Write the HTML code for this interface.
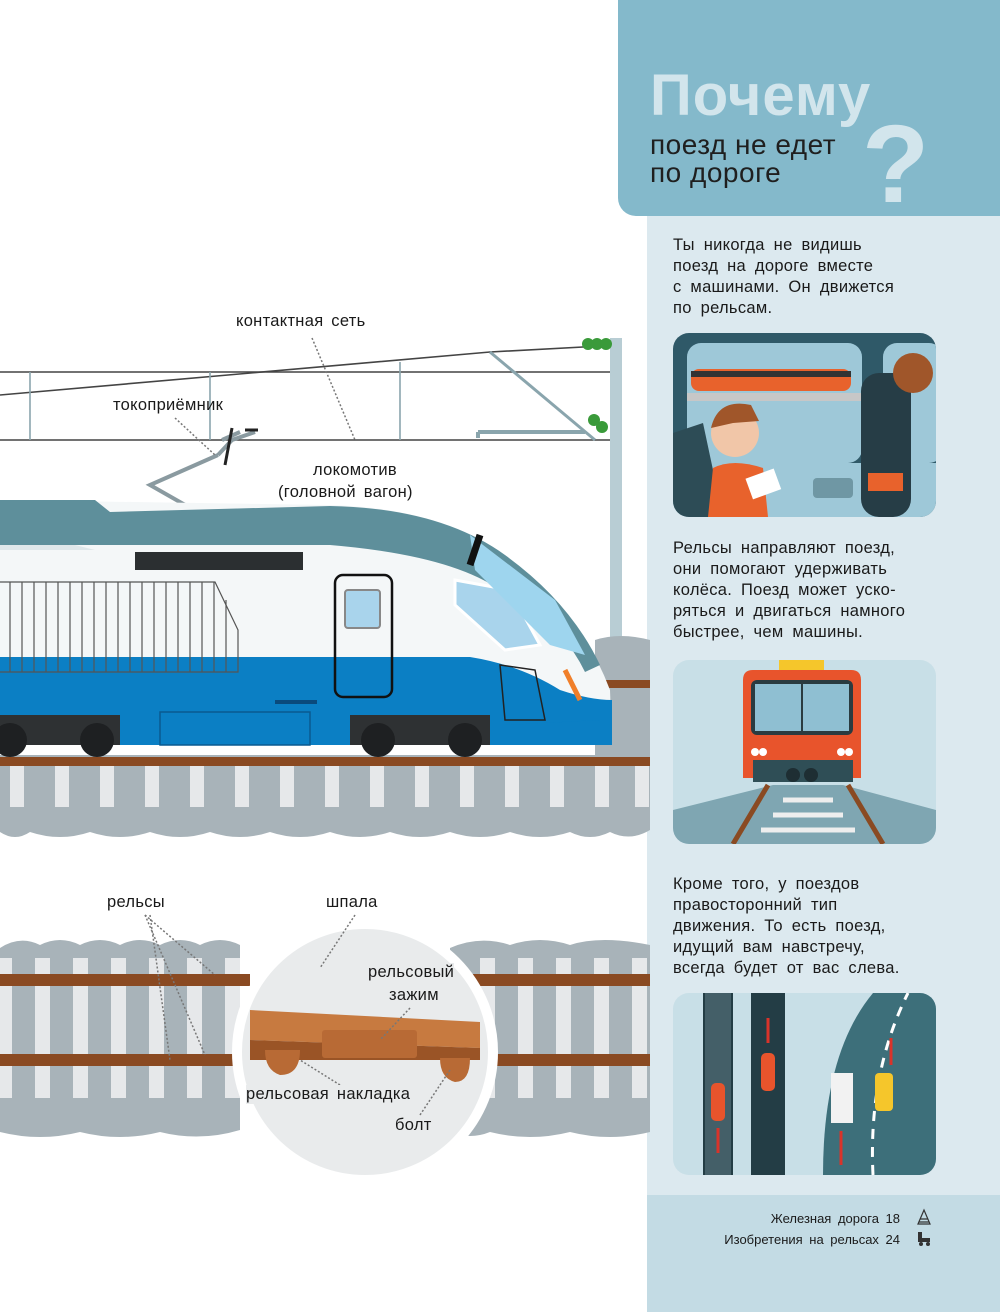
<!DOCTYPE html>
<html><head><meta charset="utf-8"><style>
body{margin:0;width:1000px;height:1312px;position:relative;background:#fff;overflow:hidden;font-family:"Liberation Sans","DejaVu Sans",sans-serif;color:#1a1a1a}
.a{position:absolute}
.p{position:absolute;left:673px;font-size:16.5px;line-height:21px;word-spacing:4px;letter-spacing:.3px}
.lbl{position:absolute;font-size:16.5px;word-spacing:3px;letter-spacing:.3px}
</style></head><body>
<div class="a" style="left:647px;top:0;width:353px;height:1312px;background:#dce9ef"></div>
<div class="a" style="left:647px;top:1195px;width:353px;height:117px;background:#c3dbe4"></div>
<div class="a" style="left:618px;top:0;width:382px;height:216px;background:#84b9cb;border-bottom-left-radius:18px"></div>
<div class="a" style="left:650px;top:62px;font-size:58px;font-weight:bold;color:#d2e5ec;letter-spacing:1px">Почему</div>
<div class="a" style="left:650px;top:131px;font-size:28px;line-height:28px;color:#1f1f1f;letter-spacing:.5px">поезд не едет<br>по дороге</div>
<div class="a" style="left:862px;top:110px;font-size:110px;font-weight:bold;color:#d2e5ec;line-height:110px">?</div>

<div class="p" style="top:235px">Ты никогда не видишь<br>поезд на дороге вместе<br>с машинами. Он движется<br>по рельсам.</div>
<div class="p" style="top:538px">Рельсы направляют поезд,<br>они помогают удерживать<br>колёса. Поезд может уско-<br>ряться и двигаться намного<br>быстрее, чем машины.</div>
<div class="p" style="top:874px">Кроме того, у поездов<br>правосторонний тип<br>движения. То есть поезд,<br>идущий вам навстречу,<br>всегда будет от вас слева.</div>

<div class="a" style="left:660px;top:1208px;width:240px;text-align:right;font-size:13px;line-height:21px;word-spacing:3px">Железная дорога 18<br>Изобретения на рельсах 24</div>
<svg class="a" style="left:914px;top:1208px" width="20" height="40"><path d="M4,16 L10,2 L16,16 Z M6,11 H14 M5,14 H15" stroke="#333" fill="none" stroke-width="1.2"/><path d="M4,24 V34 H16 V30 H8 V24 Z" fill="#333"/><circle cx="7" cy="36" r="2" fill="#333"/><circle cx="14" cy="36" r="2" fill="#333"/></svg>

<!-- boxes -->
<svg class="a" style="left:673px;top:333px" width="263" height="184">
<defs><clipPath id="c1"><rect width="263" height="184" rx="16"/></clipPath></defs>
<g clip-path="url(#c1)">
<rect width="263" height="184" fill="#2f5968"/>
<rect x="14" y="10" width="175" height="120" rx="14" fill="#9ec8d8"/>
<rect x="210" y="10" width="60" height="120" rx="14" fill="#9ec8d8"/>
<rect x="14" y="60" width="175" height="8" fill="#c7c7c7"/>
<rect x="18" y="36" width="160" height="22" rx="8" fill="#e8622c"/>
<rect x="18" y="38" width="160" height="6" fill="#333"/>
<rect x="0" y="130" width="263" height="54" fill="#9ec8d8"/>
<path d="M0,100 L30,90 L50,184 L0,184Z" fill="#2d4c56"/>
<circle cx="62" cy="100" r="24" fill="#f1c6a8"/>
<path d="M38,95 Q45,65 78,72 L86,88 L60,90 Z" fill="#a0562a"/>
<path d="M40,135 Q60,125 90,135 L95,184 L35,184Z" fill="#e8622c"/>
<rect x="75" y="140" width="30" height="22" fill="#fff" transform="rotate(-20 90 150)"/>
<rect x="188" y="40" width="50" height="144" rx="18" fill="#263d46"/>
<circle cx="240" cy="40" r="20" fill="#a0562a"/>
<rect x="195" y="140" width="35" height="18" fill="#e8622c"/>
<rect x="140" y="145" width="40" height="20" rx="4" fill="#6f97a4"/>
</g></svg>

<svg class="a" style="left:673px;top:660px" width="263" height="184">
<defs><clipPath id="c2"><rect width="263" height="184" rx="16"/></clipPath></defs>
<g clip-path="url(#c2)">
<rect width="263" height="184" fill="#c8dfe7"/>
<path d="M0,150 L100,125 L170,125 L263,150 L263,184 L0,184Z" fill="#7fa6b2"/>
<path d="M95,125 L60,184 M175,125 L210,184" stroke="#8a4a22" stroke-width="5"/>
<path d="M110,140 H160 M100,155 H170 M88,170 H182" stroke="#eee" stroke-width="5"/>
<rect x="106" y="0" width="45" height="10" fill="#f5c62b"/>
<path d="M70,20 Q70,10 80,10 H178 Q188,10 188,20 L188,118 H70Z" fill="#e8542c"/>
<rect x="78" y="20" width="102" height="55" rx="6" fill="#2a3b40"/>
<rect x="82" y="24" width="46" height="47" fill="#8fbfd2"/><rect x="130" y="24" width="46" height="47" fill="#8fbfd2"/>
<rect x="70" y="80" width="118" height="20" fill="#e8542c"/>
<circle cx="82" cy="92" r="4" fill="#fff"/><circle cx="90" cy="92" r="4" fill="#fff"/><circle cx="168" cy="92" r="4" fill="#fff"/><circle cx="176" cy="92" r="4" fill="#fff"/>
<rect x="80" y="100" width="100" height="22" fill="#2f4e56"/>
<circle cx="120" cy="115" r="7" fill="#1e2e33"/><circle cx="138" cy="115" r="7" fill="#1e2e33"/>
</g></svg>

<svg class="a" style="left:673px;top:993px" width="263" height="182">
<defs><clipPath id="c3"><rect width="263" height="182" rx="16"/></clipPath></defs>
<g clip-path="url(#c3)">
<rect width="263" height="182" fill="#c8dfe7"/>
<rect x="30" y="0" width="30" height="182" fill="#233d45"/><rect x="78" y="0" width="34" height="182" fill="#233d45"/>
<rect x="32" y="0" width="26" height="182" fill="#a8c7d2" opacity=".25"/>
<rect x="38" y="90" width="14" height="38" rx="5" fill="#e8542c"/>
<rect x="88" y="60" width="14" height="38" rx="5" fill="#e8542c"/>
<path d="M45,135 V160 M95,50 V25" stroke="#d9332a" stroke-width="3"/>
<path d="M150,182 Q150,60 200,0 L263,0 L263,182Z" fill="#3d6f7a"/>
<path d="M200,182 Q195,80 235,0" stroke="#fff" stroke-width="3" stroke-dasharray="10,8" fill="none"/>
<rect x="158" y="80" width="22" height="50" fill="#f2f2f2"/>
<rect x="202" y="80" width="18" height="38" rx="4" fill="#f5c62b"/>
<path d="M168,138 V172 M218,72 V45" stroke="#d9332a" stroke-width="3"/>
</g></svg>

<!-- main illustration -->
<svg class="a" style="left:0;top:0" width="650" height="1312">
<g stroke="#444" stroke-width="1.6" fill="none">
<path d="M0,372 H610"/>
<path d="M0,395 L490,352 L620,345"/>
<path d="M0,440 H615"/>
<path d="M30,372 V440 M210,372 V440 M400,362 V440" stroke="#8aa5ad"/>
</g>
<path d="M490,352 L595,440" stroke="#8aa5ad" stroke-width="3"/>
<path d="M478,432 H585 M478,432 V438" stroke="#8aa5ad" stroke-width="4" fill="none"/>
<rect x="610" y="338" width="12" height="302" fill="#b8cdd4"/>
<g fill="#3a9a3a"><circle cx="588" cy="344" r="6"/><circle cx="597" cy="344" r="6"/><circle cx="606" cy="344" r="6"/><circle cx="594" cy="420" r="6"/><circle cx="602" cy="427" r="6"/></g>
<!-- pantograph -->
<path d="M215,522 L150,485 L218,455 M222,440 L240,432 M218,455 L232,440 L255,432" stroke="#8a9aa0" stroke-width="4" fill="none"/>
<path d="M232,428 L225,465 M245,430 L258,430" stroke="#222" stroke-width="3"/>
<!-- ballast -->
<path d="M0,755 H650 V830 Q630,842 610,832 Q590,842 570,832 Q540,842 510,832 Q480,842 450,832 Q420,842 390,832 Q360,842 330,832 Q300,842 270,832 Q240,842 210,832 Q180,842 150,832 Q120,842 90,832 Q60,842 30,832 Q15,842 0,832Z" fill="#a8b3b9"/>
<path d="M595,640 Q620,632 650,640 V760 H595Z" fill="#a8b3b9"/>
<g fill="#e6e8ea">
<rect x="10" y="765" width="14" height="42"/><rect x="55" y="765" width="14" height="42"/><rect x="100" y="765" width="14" height="42"/><rect x="145" y="765" width="14" height="42"/><rect x="190" y="765" width="14" height="42"/><rect x="235" y="765" width="14" height="42"/><rect x="280" y="765" width="14" height="42"/><rect x="325" y="765" width="14" height="42"/><rect x="370" y="765" width="14" height="42"/><rect x="415" y="765" width="14" height="42"/><rect x="460" y="765" width="14" height="42"/><rect x="505" y="765" width="14" height="42"/><rect x="550" y="765" width="14" height="42"/><rect x="595" y="765" width="14" height="42"/><rect x="635" y="765" width="14" height="42"/>
</g>
<rect x="0" y="757" width="650" height="9" fill="#8a4a22"/>
<rect x="595" y="680" width="55" height="8" fill="#8a4a22"/>
<!-- train -->
<path d="M0,500 L330,505 Q440,508 505,555 Q580,610 610,690 L612,745 L0,745Z" fill="#f4f7f8"/>
<path d="M0,500 L95,500 L110,512 L330,506 Q440,508 505,555 Q570,602 600,665 L585,672 Q560,620 500,590 Q450,555 330,545 L0,545Z" fill="#5e8f9b"/>
<path d="M0,545 L75,545 L95,550 H0Z" fill="#dfe7ea"/>
<path d="M0,657 H470 Q520,665 560,690 Q590,700 612,700 L612,745 L0,745Z" fill="#0b7fc4"/>
<rect x="135" y="552" width="168" height="18" fill="#2b2f31"/>
<g stroke="#555" stroke-width="1.2">
<path d="M0,582 H215 L238,630 V672 H0" fill="none"/>
<path d="M10,582V672M22,582V672M34,582V672M46,582V672M58,582V672M70,582V672M82,582V672M94,582V672M106,582V672M118,582V672M130,582V672M142,582V672M154,582V672M166,582V672M178,582V672M190,582V672M202,582V672M214,582V672M226,600V672"/>
</g>
<rect x="335" y="575" width="57" height="122" rx="8" fill="none" stroke="#111" stroke-width="2.5"/>
<rect x="345" y="590" width="35" height="38" rx="3" fill="#a9d4ec" stroke="#888" stroke-width="2"/>
<path d="M455,580 L510,590 L540,645 L505,650 L455,605Z" fill="#a9d4ec" stroke="#fff" stroke-width="3"/>
<path d="M470,535 L555,600 L585,655 L550,645 L475,570Z" fill="#9ed5ee"/>
<path d="M480,535 L470,565" stroke="#111" stroke-width="7"/>
<path d="M565,670 L580,700" stroke="#f07f2a" stroke-width="5"/>
<path d="M500,665 L535,670 L545,720 L505,720Z" fill="none" stroke="#222" stroke-width="1.5"/>
<rect x="275" y="700" width="42" height="4" fill="#0a4a7c"/>
<rect x="160" y="712" width="150" height="33" fill="none" stroke="#0a5a90" stroke-width="1.5"/>
<path d="M0,715 H120 V745 H0Z M350,715 H490 V745 H350Z" fill="#2e3133"/>
<g fill="#1e2022"><circle cx="10" cy="740" r="17"/><circle cx="97" cy="740" r="17"/><circle cx="378" cy="740" r="17"/><circle cx="465" cy="740" r="17"/></g>
<path d="M505,725 L600,720 L600,745 L505,745Z" fill="#0b7fc4"/>
<!-- second track -->
<path d="M0,948 Q20,935 40,945 Q60,935 80,945 Q100,935 120,945 Q140,935 160,945 Q180,935 200,945 Q220,935 240,945 L240,1130 Q200,1142 160,1132 Q120,1142 80,1132 Q40,1142 0,1132Z" fill="#a8b3b9"/>
<path d="M450,948 Q480,935 510,945 Q540,935 570,945 Q600,935 650,945 L650,1132 Q610,1142 570,1132 Q530,1142 490,1132 Q470,1140 450,1132Z" fill="#a8b3b9"/>
<g fill="#e6e8ea">
<rect x="0" y="958" width="12" height="140"/><rect x="35" y="958" width="15" height="140"/><rect x="73" y="958" width="15" height="140"/><rect x="111" y="958" width="15" height="140"/><rect x="149" y="958" width="15" height="140"/><rect x="187" y="958" width="15" height="140"/><rect x="225" y="958" width="15" height="140"/>
<rect x="480" y="958" width="15" height="140"/><rect x="518" y="958" width="15" height="140"/><rect x="556" y="958" width="15" height="140"/><rect x="594" y="958" width="15" height="140"/><rect x="632" y="958" width="15" height="140"/>
</g>
<g fill="#8a4a22">
<rect x="0" y="974" width="250" height="12"/><rect x="0" y="1054" width="250" height="12"/>
<rect x="470" y="974" width="180" height="12"/><rect x="470" y="1054" width="180" height="12"/>
</g>
<circle cx="365" cy="1052" r="128" fill="#e9ebec" stroke="#fff" stroke-width="10"/>
<path d="M250,1010 L480,1022 L480,1048 L250,1040Z" fill="#c77a40"/>
<path d="M250,1040 L480,1048 L480,1060 L250,1060Z" fill="#9a5426"/>
<rect x="322" y="1030" width="95" height="28" rx="3" fill="#b86a35"/>
<path d="M265,1050 H300 Q300,1075 280,1075 Q265,1070 265,1050Z M440,1058 H470 Q470,1082 455,1082 Q440,1078 440,1058Z" fill="#b86a35"/>
<!-- leaders -->
<g stroke="#777" stroke-width="1.5" stroke-dasharray="2,2" fill="none">
<path d="M312,338 L355,440"/>
<path d="M175,418 L215,455"/>
<path d="M145,915 L215,975 M145,915 L205,1055 M150,915 L170,1060"/>
<path d="M355,915 L320,968"/>
<path d="M410,1008 L380,1040"/>
<path d="M340,1085 L300,1060"/>
<path d="M420,1115 L450,1070"/>
</g>
</svg>

<div class="lbl" style="left:236px;top:312px">контактная сеть</div>
<div class="lbl" style="left:113px;top:396px">токоприёмник</div>
<div class="lbl" style="left:305px;top:461px;text-align:center;width:100px">локомотив</div>
<div class="lbl" style="left:278px;top:483px">(головной вагон)</div>
<div class="lbl" style="left:107px;top:893px">рельсы</div>
<div class="lbl" style="left:326px;top:893px">шпала</div>
<div class="lbl" style="left:368px;top:963px;background:#e9ebec">рельсовый</div>
<div class="lbl" style="left:389px;top:986px">зажим</div>
<div class="lbl" style="left:246px;top:1085px;background:#e9ebec">рельсовая накладка</div>
<div class="lbl" style="left:395px;top:1116px">болт</div>
</body></html>
